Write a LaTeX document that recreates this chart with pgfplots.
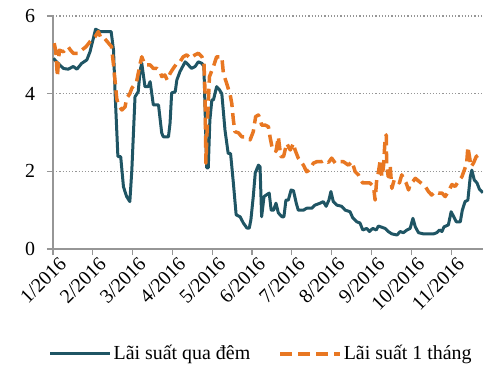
\documentclass[border=0pt]{standalone}
\usepackage{pgfplots}
\pgfplotsset{compat=1.18}
\usepackage{fontspec}
\setmainfont{Liberation Serif}
\definecolor{cblue}{RGB}{31,85,100}
\definecolor{corange}{RGB}{232,119,34}
\definecolor{cgray}{RGB}{150,150,150}
\begin{document}
\fontsize{20}{23}\selectfont
\begin{tikzpicture}
\begin{axis}[
  scale only axis,
  width=430bp, height=233bp,
  xmin=0, xmax=10.8, ymin=0, ymax=6,
  axis x line=bottom, axis y line=left,
  axis line style={cgray, line width=1.2bp, -},
  xtick={0,1,2,3,4,5,6,7,8,9,10},
  xticklabels={1/2016,2/2016,3/2016,4/2016,5/2016,6/2016,7/2016,8/2016,9/2016,10/2016,11/2016},
  ytick={0,2,4,6},
  tick align=outside,
  major tick length=6bp,
  tick style={cgray, line width=1.2bp},
  ymajorgrids,
  grid style={cgray, line width=1.2bp, dotted},
  /pgf/number format/assume math mode=true,
  tick label style={font=\fontsize{20}{23}\selectfont},
  x tick label style={rotate=45, anchor=north east, inner sep=2bp, xshift=5bp, yshift=-2bp},
  y tick label style={xshift=-5bp},
  legend columns=2,
  legend style={draw=none, at={(0.484,-0.45)}, anchor=center,
    font=\fontsize{20}{23}\selectfont,
    /tikz/every even column/.append style={column sep=26bp}},
  legend image code/.code={\draw[#1] (0bp,0bp) -- (60bp,0bp);},
]
\addplot[cblue, line width=3bp, line join=round] coordinates {
(0.01,4.91)(0.09,4.82)(0.26,4.65)(0.38,4.63)(0.51,4.70)(0.60,4.63)(0.72,4.78)(0.85,4.87)(0.93,5.08)
(1.07,5.66)(1.18,5.60)(1.46,5.60)(1.52,5.12)(1.56,4.01)(1.63,2.38)(1.70,2.38)(1.77,1.60)(1.85,1.35)
(1.93,1.22)(1.98,2.03)(2.06,3.92)(2.14,4.05)(2.19,4.61)(2.23,4.78)(2.31,4.18)(2.39,4.18)(2.44,4.31)
(2.52,3.71)(2.65,3.71)(2.73,2.99)(2.77,2.89)(2.90,2.89)(2.94,3.24)(2.98,4.02)(3.07,4.05)(3.11,4.35)
(3.19,4.57)(3.32,4.82)(3.40,4.74)(3.48,4.65)(3.57,4.70)(3.65,4.82)(3.74,4.78)(3.79,4.70)(3.82,3.58)
(3.86,2.09)(3.90,2.09)(3.94,3.32)(3.99,3.84)(4.03,3.84)(4.11,4.18)(4.18,4.10)(4.24,4.00)(4.32,3.06)
(4.40,2.46)(4.46,2.46)(4.53,1.70)(4.60,0.88)(4.70,0.83)(4.78,0.67)(4.87,0.54)(4.93,0.54)(4.97,0.75)
(5.03,1.35)(5.08,1.96)(5.16,2.16)(5.20,2.12)(5.24,0.83)(5.30,1.35)(5.37,1.40)(5.43,1.44)(5.48,1.00)
(5.54,1.00)(5.60,1.18)(5.66,0.93)(5.75,0.83)(5.80,0.83)(5.85,1.26)(5.91,1.26)(5.98,1.52)(6.04,1.50)
(6.11,1.18)(6.16,1.00)(6.29,1.00)(6.37,1.05)(6.50,1.05)(6.58,1.13)(6.71,1.18)(6.79,1.22)(6.86,1.10)
(6.93,1.26)(6.98,1.48)(7.04,1.22)(7.13,1.13)(7.25,1.10)(7.34,1.00)(7.46,0.96)(7.53,0.80)(7.63,0.70)
(7.71,0.67)(7.78,0.49)(7.88,0.53)(7.95,0.45)(8.03,0.53)(8.12,0.49)(8.17,0.59)(8.26,0.56)(8.34,0.53)
(8.42,0.45)(8.51,0.39)(8.64,0.36)(8.72,0.45)(8.80,0.42)(8.89,0.49)(8.97,0.53)(9.04,0.79)(9.10,0.57)
(9.18,0.42)(9.30,0.39)(9.43,0.39)(9.56,0.39)(9.64,0.42)(9.71,0.49)(9.77,0.45)(9.82,0.57)(9.93,0.62)
(10.00,0.96)(10.06,0.84)(10.13,0.70)(10.23,0.70)(10.28,1.00)(10.35,1.22)(10.42,1.26)(10.48,1.86)
(10.52,2.03)(10.58,1.78)(10.65,1.70)(10.71,1.54)(10.80,1.45)
};
\addlegendentry{Lãi suất qua đêm}
\addplot[corange, line width=3.5bp, dash pattern=on 12bp off 6bp, line join=round] coordinates {
(0.03,5.30)(0.07,5.10)(0.11,4.44)(0.16,5.12)(0.26,5.08)(0.38,5.21)(0.44,5.12)(0.51,5.04)(0.64,5.04)
(0.72,5.12)(0.83,5.21)(0.93,5.34)(1.06,5.47)(1.14,5.60)(1.20,5.44)(1.28,5.44)(1.47,5.21)(1.52,4.74)
(1.56,4.31)(1.60,3.88)(1.64,3.71)(1.73,3.58)(1.81,3.66)(1.85,3.88)(1.93,4.00)(1.98,4.14)(2.10,4.31)
(2.19,4.78)(2.23,4.95)(2.31,4.74)(2.44,4.74)(2.52,4.65)(2.61,4.65)(2.69,4.57)(2.73,4.44)(2.81,4.48)
(2.87,4.35)(2.94,4.52)(3.02,4.65)(3.11,4.78)(3.19,4.82)(3.27,4.95)(3.36,5.00)(3.44,4.91)(3.57,5.00)
(3.65,5.04)(3.74,4.95)(3.79,4.82)(3.82,4.00)(3.84,2.21)(3.88,3.32)(3.93,4.44)(4.03,4.70)(4.11,4.95)
(4.18,4.95)(4.24,4.95)(4.28,4.52)(4.36,4.27)(4.45,3.97)(4.49,3.75)(4.53,3.32)(4.57,3.02)(4.66,2.99)
(4.74,2.89)(4.82,2.89)(4.95,2.81)(5.03,3.02)(5.09,3.41)(5.16,3.45)(5.20,3.36)(5.24,3.19)(5.33,3.19)
(5.41,3.15)(5.45,2.89)(5.50,2.63)(5.55,2.63)(5.60,2.51)(5.66,2.89)(5.72,2.38)(5.79,2.38)(5.87,2.72)
(5.96,2.55)(6.04,2.72)(6.08,2.55)(6.16,2.34)(6.29,2.16)(6.37,1.99)(6.43,2.03)(6.54,2.21)(6.63,2.25)
(6.75,2.25)(6.82,2.29)(6.92,2.23)(7.00,2.34)(7.09,2.21)(7.17,2.25)(7.29,2.25)(7.42,2.16)(7.51,2.25)
(7.59,1.99)(7.67,1.91)(7.73,1.78)(7.78,1.70)(7.92,1.70)(7.96,1.70)(8.05,1.61)(8.09,1.26)(8.13,1.78)
(8.17,1.96)(8.22,2.29)(8.26,1.86)(8.30,2.12)(8.34,2.81)(8.37,2.94)(8.38,2.16)(8.42,1.86)(8.47,2.12)
(8.51,1.56)(8.57,1.78)(8.64,1.78)(8.70,1.70)(8.76,1.91)(8.80,1.82)(8.87,1.70)(8.93,1.52)(8.97,1.66)
(9.04,1.74)(9.10,1.82)(9.35,1.61)(9.43,1.48)(9.51,1.39)(9.60,1.48)(9.68,1.44)(9.77,1.44)(9.85,1.35)
(9.93,1.48)(10.02,1.66)(10.10,1.61)(10.18,1.74)(10.27,1.86)(10.33,2.03)(10.39,2.21)(10.42,2.63)
(10.46,2.38)(10.50,2.12)(10.56,2.21)(10.63,2.38)(10.69,2.42)(10.77,2.46)
};
\addlegendentry{Lãi suất 1 tháng}
\end{axis}
\pgfresetboundingbox
\path (current axis.south west) ++(-53bp,-123bp) rectangle ++(500bp,372bp);
\end{tikzpicture}
\end{document}
